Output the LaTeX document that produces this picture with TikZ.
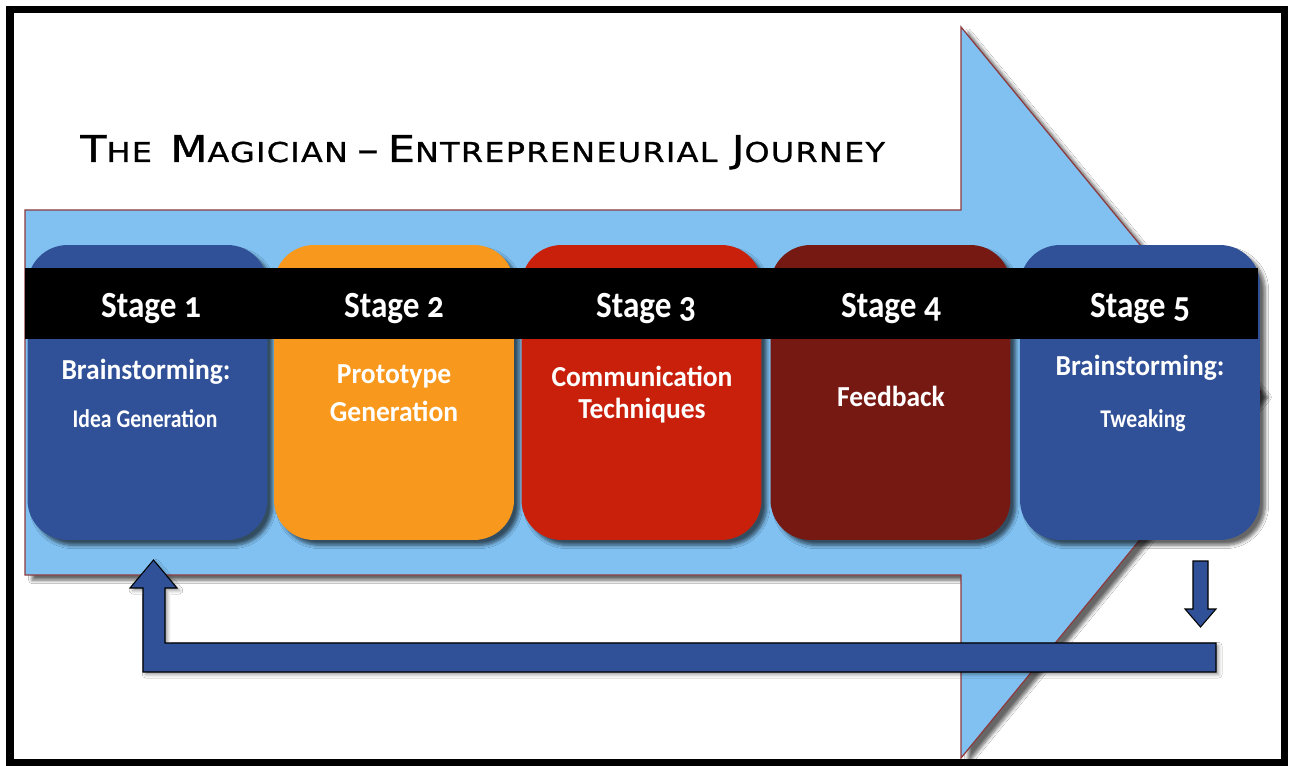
\documentclass[tikz,border=0pt]{standalone}
\usepackage{fontspec}
\usepackage{graphicx}
\setmainfont{Carlito}[Numbers=OldStyle]
\newfontfamily\titlefont{DejaVu Sans}[LetterSpace=4, FakeBold=0.8]
\usetikzlibrary{shadows.blur}
\definecolor{arrowblue}{HTML}{80C1F2}
\definecolor{arrowline}{HTML}{8E3B3E}
\definecolor{stageblue}{HTML}{305097}
\definecolor{stageorange}{HTML}{F8981D}
\definecolor{stagered}{HTML}{C9200C}
\definecolor{stagebrown}{HTML}{771913}
\newcommand\TBig[1]{{\fontsize{21}{21}\selectfont #1}}
\newcommand\TSm[1]{{\fontsize{15.6}{15.6}\selectfont #1}}
\newcommand\cnd[2]{\scalebox{#1}[1]{#2}}
\tikzset{
  stagebox/.style={rounded corners=0.8cm, minimum width=4.8cm, minimum height=5.9cm,
    inner sep=0pt, draw=none,
    blur shadow={shadow xshift=3pt, shadow yshift=-3pt, shadow opacity=60, shadow blur steps=6}},
  stagelabel/.style={text=white, font=\bfseries\fontsize{21}{23}\selectfont, inner sep=0pt},
  subbig/.style={text=white, font=\bfseries\fontsize{16.5}{19}\selectfont, inner sep=0pt},
  subsmall/.style={text=white, font=\bfseries\fontsize{14.5}{16}\selectfont, inner sep=0pt},
  blockarrow/.style={fill=stageblue, draw=black, line width=0.6pt, line join=miter},
}
\begin{document}
\begin{tikzpicture}[x=0.02cm, y=-0.02cm]
\useasboundingbox (0,0) rectangle (1297,766);
\fill[white] (0,0) rectangle (1297,766);
% big background arrow
\path[fill=arrowblue, draw=arrowline, line width=0.7pt, line join=miter,
  blur shadow={shadow xshift=4pt, shadow yshift=-3pt, shadow opacity=60, shadow blur steps=6}]
  (25,210) -- (961,210) -- (961,27) -- (1261,392) -- (961,758) -- (961,575) -- (25,575) -- cycle;
% title
\node[anchor=base west, inner sep=0pt] (title) at (80,162)
  {\resizebox{458pt}{15.3pt}{\titlefont\TBig{T}\TSm{HE}\hspace{0.9em}\TBig{M}\TSm{AGICIAN}\hspace{0.45em}\TBig{–}\hspace{0.45em}\TBig{E}\TSm{NTREPRENEURIAL}\hspace{0.7em}\TBig{J}\TSm{OURNEY}}};
% stage boxes
\node[stagebox, fill=stageblue]   (s1) at (147.5,392.5) {};
\node[stagebox, fill=stageorange] (s2) at (394,392.5) {};
\node[stagebox, fill=stagered]    (s3) at (641.5,392.5) {};
\node[stagebox, fill=stagebrown]  (s4) at (890.5,392.5) {};
\node[stagebox, fill=stageblue]   (s5) at (1140,392.5) {};
% black band
\fill[black] (25,268) rectangle (1258,339);
% stage labels
\node[stagelabel] (l1) at (151,309) {\cnd{0.9}{Stage 1}};
\node[stagelabel] (l2) at (394,309) {\cnd{0.9}{Stage 2}};
\node[stagelabel] (l3) at (646,309) {\cnd{0.9}{Stage 3}};
\node[stagelabel] (l4) at (891,309) {\cnd{0.9}{Stage 4}};
\node[stagelabel] (l5) at (1140,309) {\cnd{0.9}{Stage 5}};
% descriptions
\node[subbig]   (d1a) at (146,372) {\cnd{0.95}{Brainstorming:}};
\node[subsmall] (d1b) at (145,419) {\cnd{0.85}{Idea Generation}};
\node[subbig]   (d2a) at (394,376) {\cnd{0.95}{Prototype}};
\node[subbig]   (d2b) at (394,411) {\cnd{0.95}{Generation}};
\node[subbig]   (d3a) at (642,376) {\cnd{0.95}{Communication}};
\node[subbig]   (d3b) at (642,411) {\cnd{0.95}{Techniques}};
\node[subbig]   (d4)  at (891,396) {\cnd{0.95}{Feedback}};
\node[subbig]   (d5a) at (1140,368) {\cnd{0.95}{Brainstorming:}};
\node[subsmall] (d5b) at (1143,421) {\cnd{0.85}{Tweaking}};
% feedback arrows
\path[blockarrow, blur shadow={shadow xshift=1.5pt, shadow yshift=-1.5pt, shadow opacity=40, shadow blur steps=4}]
  (1216,643) -- (165,643) -- (165,588) -- (177,588) -- (153.5,560) -- (130,588) -- (143,588)
  -- (143,672) -- (1216,672) -- cycle;
\path[blockarrow]
  (1193,561) -- (1208,561) -- (1208,609) -- (1216,609) -- (1200.5,627) -- (1185,609) -- (1193,609) -- cycle;
% frame
\draw[black, line width=4.5pt] (10,9.5) rectangle (1284.5,763);
\end{tikzpicture}
\end{document}
